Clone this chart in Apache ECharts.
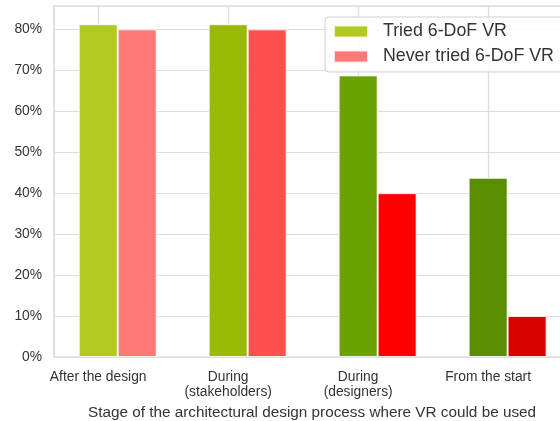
<!DOCTYPE html>
<html>
<head>
<meta charset="utf-8">
<script src="https://cdn.jsdelivr.net/npm/echarts@6/dist/echarts.min.js"></script>
<style>
  html, body { margin: 0; padding: 0; background: #ffffff; }
  #chart { width: 560px; height: 421px; }
</style>
</head>
<body>
<div id="chart"></div>
<script>
// Stages of the design process (x categories)
const categories = ['After the design', 'During\n(stakeholders)', 'During\n(designers)', 'From the start'];

// Share of respondents who would use VR at each stage (%)
const triedValues = [81.25, 81.25, 68.75, 43.75];
const neverValues = [80, 80, 40, 10];

// Per-stage shades for each group
const triedColors = ['#b2c922', '#9bba06', '#6aa200', '#5a8e00'];
const neverColors = ['#ff7878', '#ff5050', '#ff0000', '#d80000'];

const seriesNames = ['Tried 6-DoF VR', 'Never tried 6-DoF VR'];
const yTicks = [0, 10, 20, 30, 40, 50, 60, 70, 80];
const xAxisTitle = 'Stage of the architectural design process where VR could be used';

// Bars of the second group sit 0.3 category units to the right of the first
const groupOffset = 0.3;

const font = '"Liberation Sans", Arial, sans-serif';
const gridColor = '#dedede';

function barData(values, colors, offset) {
  return values.map((v, i) => ({
    value: [i + offset, v],
    itemStyle: { color: colors[i] }
  }));
}

const chart = echarts.init(document.getElementById('chart'), null, { renderer: 'canvas' });

chart.setOption({
  animation: false,
  backgroundColor: '#ffffff',
  textStyle: { fontFamily: font },
  grid: {
    left: 54, top: 6, width: 516, bottom: 64,
    outerBoundsMode: 'none',
    show: true, borderColor: '#cccccc', borderWidth: 1.2,
    containLabel: false
  },
  legend: {
    orient: 'vertical',
    left: 325, top: 17,
    padding: [4, 30, 5, 8],
    itemWidth: 34, itemHeight: 12,
    itemGap: 4,
    backgroundColor: 'rgba(255,255,255,0.85)',
    borderColor: 'rgba(204,204,204,0.9)',
    borderWidth: 1,
    borderRadius: 4,
    icon: 'rect',
    textStyle: { fontFamily: font, fontSize: 17.8, color: '#333333', lineHeight: 21, padding: [0, 0, 0, 10] },
    data: seriesNames
  },
  xAxis: {
    type: 'value',
    min: -0.34, max: 3.63,
    minInterval: 1, maxInterval: 1,
    name: xAxisTitle,
    nameLocation: 'middle',
    nameGap: 45,
    nameTextStyle: { fontFamily: font, fontSize: 15.3, color: '#333333' },
    axisLine: { show: false },
    axisTick: { show: false },
    axisLabel: {
      fontFamily: font, fontSize: 13.8, color: '#333333', margin: 13, lineHeight: 15,
      showMinLabel: true, showMaxLabel: true,
      formatter: v => (Number.isInteger(v) && v >= 0 && v < categories.length) ? categories[v] : ''
    },
    splitLine: { show: true, lineStyle: { color: gridColor, width: 1.2 } }
  },
  yAxis: {
    type: 'value',
    min: 0, max: 85.7,
    interval: 10,
    axisLine: { show: false },
    axisTick: { show: false },
    axisLabel: {
      fontFamily: font, fontSize: 13.8, color: '#333333', margin: 12,
      formatter: v => yTicks.includes(v) ? v + '%' : ''
    },
    splitLine: { show: true, lineStyle: { color: gridColor, width: 1.2 } }
  },
  series: [
    {
      // vertical grid lines at each stage, kept beneath the bars
      type: 'line',
      z: 2,
      silent: true,
      data: [],
      markLine: {
        z: 2,
        silent: true,
        symbol: ['none', 'none'],
        label: { show: false },
        lineStyle: { color: gridColor, width: 1.2, type: 'solid' },
        emphasis: { disabled: true },
        data: categories.map((c, i) => ({ xAxis: i }))
      }
    },
    {
      name: seriesNames[0],
      type: 'bar',
      z: 3,
      barWidth: 39,
      barGap: '-100%',
      itemStyle: { color: triedColors[0], borderColor: 'rgba(255,255,255,0.8)', borderWidth: 1 },
      data: barData(triedValues, triedColors, 0)
    },
    {
      name: seriesNames[1],
      type: 'bar',
      z: 3,
      barWidth: 39,
      barGap: '-100%',
      itemStyle: { color: neverColors[0], borderColor: 'rgba(255,255,255,0.8)', borderWidth: 1 },
      data: barData(neverValues, neverColors, groupOffset)
    }
  ]
});
</script>
</body>
</html>
